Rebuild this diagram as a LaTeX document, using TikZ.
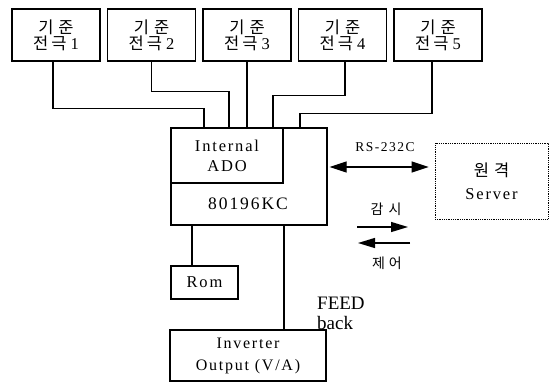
\documentclass[tikz,border=0pt]{standalone}
\usepackage{fontspec}
\setmainfont{Liberation Serif}
\newfontfamily\kr{Noto Sans CJK KR}
\newfontfamily\wide{Liberation Serif}[LetterSpace=11]
\usetikzlibrary{arrows.meta,positioning}
\tikzset{
  wire/.style={line width=1.3pt},
  box/.style={draw,line width=1.3pt,inner sep=0pt,align=center},
  elec/.style={box,minimum width=88pt,minimum height=52pt,font=\fontsize{16.5}{16}\selectfont},
  dotbox/.style={draw,densely dotted,line width=0.8pt,inner sep=0pt,align=center},
  sig/.style={line width=1.3pt,-{Triangle[length=17pt,width=10pt]}},
  lbl/.style={inner sep=0pt,font=\kr\fontsize{14}{15}\selectfont}
}
\begin{document}
\begin{tikzpicture}[x=1pt,y=-1pt]
  \useasboundingbox (0,0) rectangle (554,383);
  % sensing electrodes
  \foreach \n/\x in {1/56,2/151.5,3/247,4/342.5,5/438}
  {
    \node[elec] (e\n) at (\x,35) {{\kr 기\hspace{5pt}준}\\{\kr 전\hspace{3pt}극}\hspace{4pt}\n};
  }
  % controller
  \node[box,minimum width=156pt,minimum height=97pt] (cpu) at (249,176.5) {};
  \node[box,anchor=north west,minimum width=112pt,minimum height=55pt,
        font=\wide\fontsize{16.5}{20}\selectfont] (ado) at (cpu.north west) {Internal\\ADO};
  \node[inner sep=0pt,font=\wide\fontsize{17.5}{22}\selectfont] (mcu) at (248,204) {80196KC};
  \node[box,minimum width=67pt,minimum height=33pt,
        font=\wide\fontsize{16.5}{18}\selectfont] (rom) at (204.5,282.5) {Rom};
  \node[box,minimum width=156pt,minimum height=51pt,
        font=\wide\fontsize{16}{22}\selectfont] (inv) at (248,355.5) {Inverter\\Output (V/A)};
  \node[dotbox,minimum width=113pt,minimum height=76pt,
        font=\fontsize{16.5}{23}\selectfont] (srv) at (491.5,181) {{\kr 원\hspace{5pt}격}\\{\wide Server}};
  % electrode wiring
  \draw[wire] ([xshift=-3pt]e1.south) -- ++(0,47) -| ([xshift=-45pt]cpu.north);
  \draw[wire] (e2.south) -- ++(0,30) -| ([xshift=-20pt]cpu.north);
  \draw[wire] (e3.south) -- (e3.south |- cpu.north);
  \draw[wire] ([xshift=2.5pt]e4.south) -- ++(0,34) -| ([xshift=24pt]cpu.north);
  \draw[wire] ([xshift=-6pt]e5.south) -- ++(0,52) -| ([xshift=51pt]cpu.north);
  \draw[wire] ([xshift=-12.5pt]rom.north) -- ([xshift=-12.5pt]rom.north |- cpu.south);
  \draw[wire] ([xshift=36pt]inv.north) -- ([xshift=36pt]inv.north |- cpu.south);
  \node[anchor=west,align=left,inner sep=0pt,font=\fontsize{19}{20}\selectfont] (fb) at (317,313) {FEED\\back};
  % serial link
  \coordinate (rs) at (0,167);
  \draw[sig,{Triangle[length=17pt,width=11pt]}-{Triangle[length=17pt,width=11pt]}]
    ([xshift=2pt]cpu.east |- rs) -- ([xshift=-6pt]srv.west |- rs);
  \node[inner sep=0pt,font=\wide\fontsize{13.5}{15}\selectfont] (rslbl) at (385,147) {RS-232C};
  \node[lbl] (gamsi) at (386,209) {감\hspace{5pt}시};
  \coordinate (m1) at (357,227);
  \coordinate (m2) at (408,227);
  \draw[sig] (m1) -- (m2);
  \coordinate (c1) at (410,243);
  \coordinate (c2) at (358,243);
  \draw[sig] (c1) -- (c2);
  \node[lbl] (jeeo) at (387,263) {제\hspace{4pt}어};
\end{tikzpicture}
\end{document}
